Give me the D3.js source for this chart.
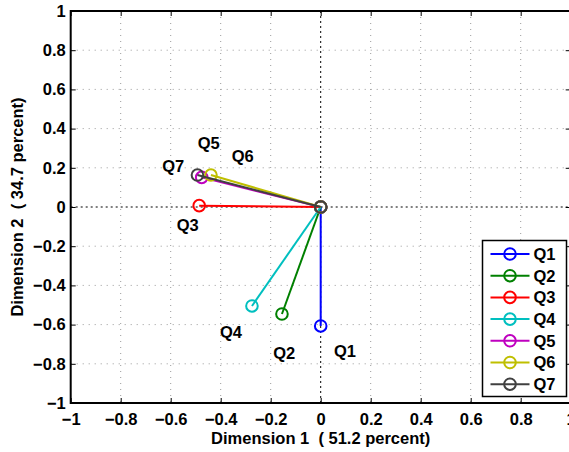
<!DOCTYPE html>
<html>
<head>
<meta charset="utf-8">
<script src="https://cdn.jsdelivr.net/npm/d3@7"></script>
<style>
  html, body { margin: 0; padding: 0; background: #fff; }
  svg { display: block; }
  text { font-family: "Liberation Sans", Arial, Helvetica, sans-serif; font-weight: bold; white-space: pre; }
</style>
</head>
<body>
<svg id="chart" width="569" height="452"></svg>
<script>
// Questions and their loadings on the two dimensions
const names = ["Q1", "Q2", "Q3", "Q4", "Q5", "Q6", "Q7"];
const dim1 = [0.000, -0.155, -0.486, -0.275, -0.476, -0.439, -0.493];
const dim2 = [-0.607, -0.546, 0.007, -0.505, 0.151, 0.163, 0.163];
// Where each question's label sits (left edge, baseline)
const labelX = [0.053, -0.190, -0.576, -0.403, -0.492, -0.356, -0.634];
const labelY = [-0.765, -0.776, -0.122, -0.668, 0.296, 0.230, 0.179];
const colors = ["#0000ff", "#008000", "#ff0000", "#00bfbf", "#bf00bf", "#bfbf00", "#404040"];
const xTicks = [-1, -0.8, -0.6, -0.4, -0.2, 0, 0.2, 0.4, 0.6, 0.8, 1];
const yTicks = [-1, -0.8, -0.6, -0.4, -0.2, 0, 0.2, 0.4, 0.6, 0.8, 1];
const xTitle = "Dimension 1  ( 51.2 percent)";
const yTitle = "Dimension 2  ( 34.7 percent)";

const FS = "16.5px";
const svg = d3.select("#chart");
const pLeft = 70.7, pRight = 570.7, pTop = 11, pBottom = 403;
const x = d3.scaleLinear().domain([-1, 1]).range([pLeft, pRight]);
const y = d3.scaleLinear().domain([-1, 1]).range([pBottom, pTop]);
const fmt = d => d === 0 ? "0" : d3.format("")(d);

// Dotted grid
const grid = svg.append("g");
grid.selectAll(".gx").data(xTicks.filter(t => t !== 0 && t !== -1 && t !== 1)).join("line")
  .attr("x1", d => x(d)).attr("x2", d => x(d)).attr("y1", pTop).attr("y2", pBottom)
  .attr("stroke", "#9a9a9a").attr("stroke-width", 1).attr("stroke-dasharray", "1,5");
grid.selectAll(".gy").data(yTicks.filter(t => t !== 0 && t !== -1 && t !== 1)).join("line")
  .attr("x1", pLeft).attr("x2", pRight).attr("y1", d => y(d)).attr("y2", d => y(d))
  .attr("stroke", "#9a9a9a").attr("stroke-width", 1).attr("stroke-dasharray", "1,5");

// Black dotted zero lines
grid.append("line").attr("x1", x(0)).attr("x2", x(0)).attr("y1", pTop).attr("y2", pBottom)
  .attr("stroke", "#000").attr("stroke-width", 1).attr("stroke-dasharray", "2,3");
grid.append("line").attr("x1", pLeft).attr("x2", pRight).attr("y1", y(0)).attr("y2", y(0))
  .attr("stroke", "#000").attr("stroke-width", 1).attr("stroke-dasharray", "2,3");

// Axes with inward ticks
const axisStyle = g => {
  g.select(".domain").remove();
  g.selectAll(".tick line").attr("stroke", "#000").attr("stroke-width", 1);
  g.selectAll(".tick text").attr("fill", "#000").style("font-size", FS);
};
svg.append("g").attr("transform", `translate(0,${pBottom})`)
  .call(d3.axisBottom(x).tickValues(xTicks).tickFormat(fmt).tickSize(-5).tickPadding(10))
  .call(axisStyle);
svg.append("g").attr("transform", `translate(${pLeft},0)`)
  .call(d3.axisLeft(y).tickValues(yTicks).tickFormat(fmt).tickSize(-5).tickPadding(5))
  .call(axisStyle);
svg.append("g").attr("transform", `translate(0,${pTop})`)
  .call(d3.axisTop(x).tickValues(xTicks).tickFormat("").tickSize(-5))
  .call(axisStyle);
svg.append("g").attr("transform", `translate(${pRight},0)`)
  .call(d3.axisRight(y).tickValues(yTicks).tickFormat("").tickSize(-5))
  .call(axisStyle);

// Frame
svg.append("rect").attr("x", pLeft).attr("y", pTop)
  .attr("width", pRight - pLeft).attr("height", pBottom - pTop)
  .attr("fill", "none").attr("stroke", "#000").attr("stroke-width", 2);

// Vectors from the origin, with circle markers at both ends
const rows = names.map((n, i) => ({ name: n, d1: dim1[i], d2: dim2[i], lx: labelX[i], ly: labelY[i], color: colors[i] }));
const vec = svg.append("g");
rows.forEach(r => {
  const g = vec.append("g");
  g.append("line")
    .attr("x1", x(0)).attr("y1", y(0)).attr("x2", x(r.d1)).attr("y2", y(r.d2))
    .attr("stroke", r.color).attr("stroke-width", 2);
  g.selectAll("circle").data([[0, 0], [r.d1, r.d2]]).join("circle")
    .attr("cx", d => x(d[0])).attr("cy", d => y(d[1])).attr("r", 5.8)
    .attr("fill", "none").attr("stroke", r.color).attr("stroke-width", 2);
});

// Question labels
svg.append("g").selectAll("text").data(rows).join("text")
  .attr("x", d => x(d.lx)).attr("y", d => y(d.ly))
  .style("font-size", FS).attr("fill", "#000")
  .text(d => d.name);

// Axis titles
svg.append("text").attr("x", (pLeft + pRight) / 2).attr("y", 444)
  .attr("text-anchor", "middle").style("font-size", FS).text(xTitle);
svg.append("text").attr("transform", `translate(23,${y(0)}) rotate(-90)`)
  .attr("text-anchor", "middle").style("font-size", FS).text(yTitle);

// Legend
const lg = svg.append("g");
const lgLeft = 482.5, lgTop = 240.5, lgW = 84, lgH = 156, step = 21.7, firstY = 254;
lg.append("rect").attr("x", lgLeft).attr("y", lgTop).attr("width", lgW).attr("height", lgH)
  .attr("fill", "#fff").attr("stroke", "#000").attr("stroke-width", 1.5);
const items = lg.selectAll(".item").data(rows).join("g")
  .attr("transform", (d, i) => `translate(0,${firstY + i * step})`);
items.append("line").attr("x1", 490.5).attr("x2", 529.5).attr("y1", 0).attr("y2", 0)
  .attr("stroke", d => d.color).attr("stroke-width", 2);
items.append("circle").attr("cx", 510).attr("cy", 0).attr("r", 5.8)
  .attr("fill", "none").attr("stroke", d => d.color).attr("stroke-width", 2);
items.append("text").attr("x", 533.5).attr("y", 0).attr("dy", "0.36em")
  .style("font-size", FS).attr("fill", "#000").text(d => d.name);
</script>
</body>
</html>
